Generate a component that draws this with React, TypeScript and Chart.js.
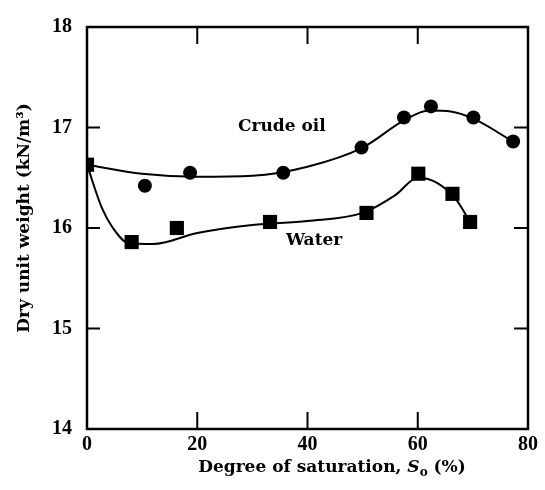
import React, { useEffect, useRef } from "react";
import { Chart, registerables } from "chart.js";

Chart.register(...registerables);

// Measured markers
const oilX = [0, 10.5, 18.7, 35.6, 49.8, 57.5, 62.4, 70.1, 77.3];
const oilY = [16.63, 16.42, 16.55, 16.55, 16.8, 17.1, 17.21, 17.1, 16.86];
const waterX = [0, 8.1, 16.3, 33.2, 50.7, 60.1, 66.3, 69.5];
const waterY = [16.63, 15.86, 16.0, 16.06, 16.15, 16.54, 16.34, 16.06];

// Fitted curves
const oilCurveX = [0, 10, 20, 30, 40, 50, 57.5, 62, 66, 70, 77.3];
const oilCurveY = [16.63, 16.54, 16.51, 16.52, 16.61, 16.8, 17.07, 17.17, 17.16, 17.09, 16.86];
const waterCurveX = [0, 2.7, 4.7, 7.5, 12, 20, 30, 40, 50, 56, 60, 63.5, 67, 69.5];
const waterCurveY = [16.63, 16.2, 16.0, 15.85, 15.84, 15.95, 16.03, 16.07, 16.15, 16.33, 16.5, 16.45, 16.28, 16.06];

const xTicks = [0, 20, 40, 60, 80];
const yTicks = [14, 15, 16, 17, 18];

const FONT = "'Liberation Serif', 'DejaVu Serif', serif";
const TFONT = "'DejaVu Serif', serif";

const pts = (xs: number[], ys: number[]) => xs.map((x, i) => ({ x, y: ys[i] }));

const decorPlugin = {
  id: "decor",
  afterDraw(chart: any) {
    const { ctx, chartArea: a, scales } = chart;
    const xs = scales.x;
    const ys = scales.y;
    ctx.save();
    ctx.strokeStyle = "#000";
    ctx.lineWidth = 2.5;
    ctx.strokeRect(a.left, a.top, a.right - a.left, a.bottom - a.top);
    ctx.lineWidth = 2;
    ctx.beginPath();
    xTicks.slice(1, -1).forEach((v) => {
      const px = xs.getPixelForValue(v);
      ctx.moveTo(px, a.bottom);
      ctx.lineTo(px, a.bottom - 17);
      ctx.moveTo(px, a.top);
      ctx.lineTo(px, a.top + 17);
    });
    yTicks.slice(1, -1).forEach((v) => {
      const py = ys.getPixelForValue(v);
      ctx.moveTo(a.left, py);
      ctx.lineTo(a.left + 13, py);
      ctx.moveTo(a.right, py);
      ctx.lineTo(a.right - 14, py);
    });
    ctx.stroke();

    ctx.fillStyle = "#000";
    // series labels
    ctx.font = `bold 17px ${TFONT}`;
    ctx.textAlign = "left";
    ctx.textBaseline = "middle";
    ctx.fillText("Crude oil", 238, 127);
    ctx.fillText("Water", 286, 241);

    // x title with italic S and subscript o
    const y0 = 468;
    const parts: [string, string, number][] = [
      ["Degree of saturation, ", `bold 17px ${TFONT}`, 0],
      ["S", `italic bold 17px ${TFONT}`, 0],
      ["o", `bold 12px ${TFONT}`, 5],
      [" (%)", `bold 17px ${TFONT}`, 0],
    ];
    let total = 0;
    parts.forEach(([t, f]) => {
      ctx.font = f;
      total += ctx.measureText(t).width;
    });
    let cx = 332 - total / 2;
    parts.forEach(([t, f, dy]) => {
      ctx.font = f;
      ctx.fillText(t, cx, y0 + dy);
      cx += ctx.measureText(t).width;
    });

    // y title
    ctx.translate(25, 218);
    ctx.rotate(-Math.PI / 2);
    ctx.textAlign = "center";
    ctx.font = `bold 17px ${TFONT}`;
    ctx.fillText("Dry unit weight (kN/m\u00B3)", 0, 0);
    ctx.restore();
  },
};

export default function App() {
  const ref = useRef<HTMLCanvasElement>(null);
  useEffect(() => {
    const chart = new Chart(ref.current!, {
      type: "scatter",
      data: {
        datasets: [
          {
            type: "line",
            data: pts(oilCurveX, oilCurveY),
            borderColor: "#000",
            borderWidth: 2,
            pointRadius: 0,
            cubicInterpolationMode: "monotone",
            fill: false,
          } as any,
          {
            type: "line",
            data: pts(waterCurveX, waterCurveY),
            borderColor: "#000",
            borderWidth: 2,
            pointRadius: 0,
            cubicInterpolationMode: "monotone",
            fill: false,
          } as any,
          {
            data: pts(oilX, oilY),
            pointStyle: "circle",
            pointRadius: 7,
            backgroundColor: "#000",
            borderColor: "#000",
            borderWidth: 0,
          },
          {
            data: pts(waterX, waterY),
            pointStyle: "rect",
            pointRadius: 10,
            backgroundColor: "#000",
            borderColor: "#000",
            borderWidth: 0,
          },
        ],
      },
      options: {
        responsive: false,
        animation: false,
        layout: { padding: { left: 0, right: 17, top: 13, bottom: 0 } },
        plugins: { legend: { display: false }, tooltip: { enabled: false } },
        scales: {
          x: {
            type: "linear",
            min: 0,
            max: 80,
            afterFit: (s: any) => {
              s.height = 61;
            },
            afterBuildTicks: (s: any) => {
              s.ticks = xTicks.map((v) => ({ value: v }));
            },
            grid: { display: false, drawTicks: false },
            border: { display: false },
            ticks: {
              padding: 4,
              color: "#000",
              font: { family: FONT, size: 20, weight: "bold" },
              maxRotation: 0,
            },
          },
          y: {
            type: "linear",
            min: 14,
            max: 18,
            afterFit: (s: any) => {
              s.width = 87;
            },
            afterBuildTicks: (s: any) => {
              s.ticks = yTicks.map((v) => ({ value: v }));
            },
            grid: { display: false, drawTicks: false },
            border: { display: false },
            ticks: {
              padding: 15,
              color: "#000",
              font: { family: FONT, size: 20, weight: "bold" },
            },
          },
        },
      },
      plugins: [decorPlugin],
    });
    return () => chart.destroy();
  }, []);
  return (
    <div style={{ position: "absolute", left: 0, top: 0, width: 545, height: 490, background: "#fff" }}>
      <canvas ref={ref} width={545} height={490} style={{ display: "block" }} />
    </div>
  );
}
